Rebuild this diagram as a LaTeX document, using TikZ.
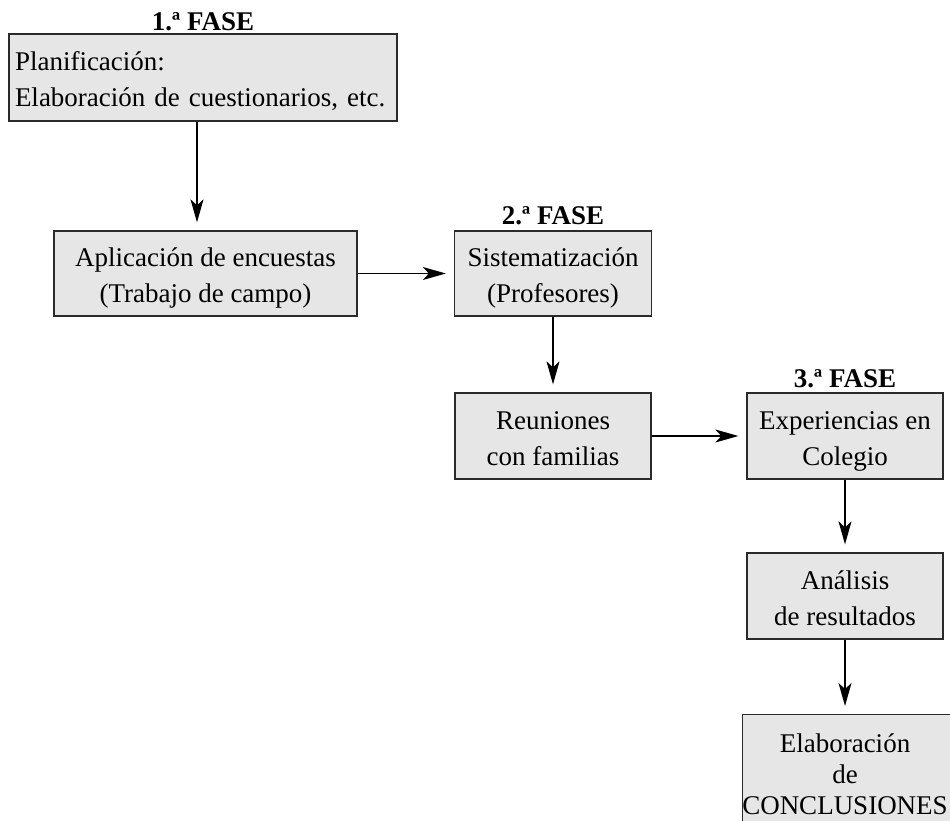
\documentclass[tikz,border=0pt]{standalone}
\usepackage{fontspec}
\setmainfont{Liberation Serif}
\usetikzlibrary{arrows.meta}
\definecolor{boxgray}{HTML}{E6E6E6}
\definecolor{edgegray}{HTML}{2A2A2A}
\newcommand\toprow[1]{\rule{0pt}{27pt}\smash{#1}}
\newcommand\botrow[1]{\rule[-5pt]{0pt}{5pt}\smash{#1}}
\begin{document}
\begin{tikzpicture}[x=1pt,y=-1pt,
  box/.style={draw=edgegray, line width=1.3pt, fill=boxgray, inner xsep=0pt, inner ysep=0pt,
    font=\fontsize{27}{36}\selectfont, align=center},
  fase/.style={font=\fontsize{27}{32}\selectfont\bfseries, inner sep=0pt, anchor=base},
  arr/.style={line width=1.2pt, -{Stealth[length=23pt,width=13pt,inset=6pt]}, shorten >=8pt}]
\useasboundingbox (0,0) rectangle (950,821);
\clip (0,0) rectangle (950,821);

% phase labels
\node[fase] (f1) at (203,31) {1.ª FASE};
\node[fase] (f2) at (553,224) {2.ª FASE};
\node[fase] (f3) at (845,387) {3.ª FASE};

% boxes
\node[box, align=left, text width=376pt, inner xsep=6pt, minimum height=87pt] (b1) at (203,77.5)
  {\toprow{Planificación:}\\\botrow{Elaboración de cuestionarios, etc.}};
\node[box, minimum width=303pt, minimum height=85pt] (b2) at (205.5,273.5)
  {\toprow{Aplicación de encuestas}\\\botrow{(Trabajo de campo)}};
\node[box, minimum width=197pt, minimum height=85pt] (b3) at (553,273.5)
  {\toprow{Sistematización}\\\botrow{(Profesores)}};
\node[box, minimum width=196pt, minimum height=86pt] (b4) at (553,436)
  {\toprow{Reuniones}\\\botrow{con familias}};
\node[box, minimum width=196pt, minimum height=86pt] (b5) at (845,436)
  {\toprow{Experiencias en}\\\botrow{Colegio}};
\node[box, minimum width=196pt, minimum height=86pt] (b6) at (845,596)
  {\toprow{Análisis}\\\botrow{de resultados}};
\node[box, anchor=north west, minimum width=220pt, minimum height=120pt] (b7) at (742,714) {};
\node[font=\fontsize{27}{31}\selectfont, align=center, inner sep=0pt, anchor=north] (t7) at (845,731)
  {\strut Elaboración\\\strut de\\\strut CONCLUSIONES};

% connectors
\draw[arr] ([xshift=-6pt]b1.south) -- ([xshift=-6pt]b1.south |- b2.north);
\draw[arr] (b2.east) -- (b3.west);
\draw[arr] (b3.south) -- (b4.north);
\draw[arr] (b4.east) -- (b4.east -| b5.west);
\draw[arr] (b5.south) -- (b6.north);
\draw[arr] (b6.south) -- (b6.south |- b7.north);
\end{tikzpicture}
\end{document}
